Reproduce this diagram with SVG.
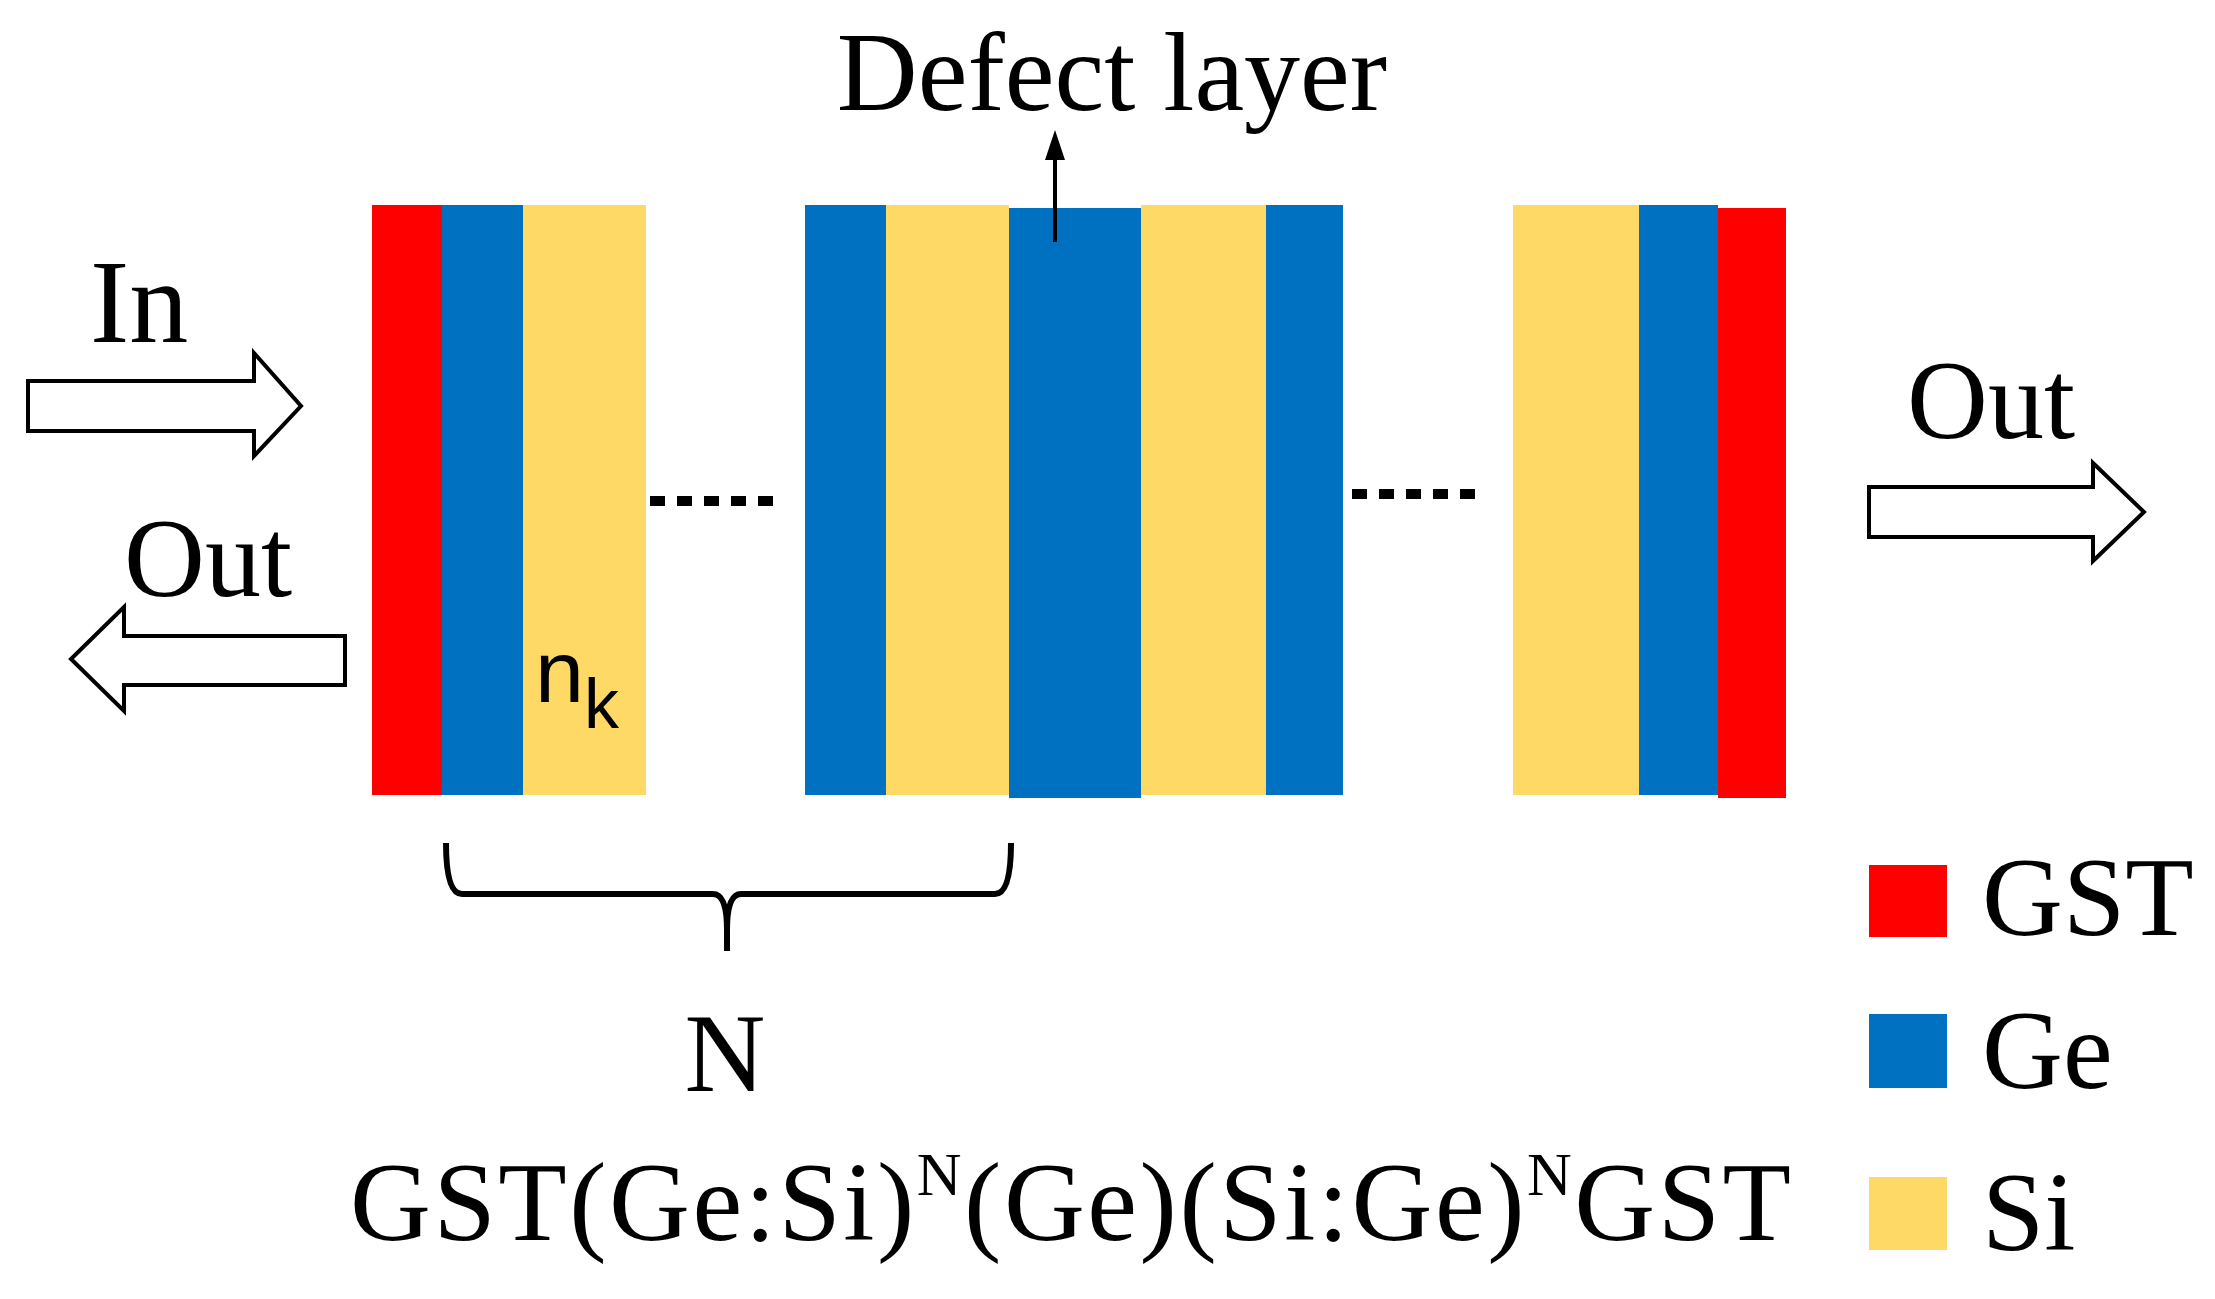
<svg xmlns="http://www.w3.org/2000/svg" width="2215" height="1299" viewBox="0 0 2215 1299">
<style>
.r{fill:#FF0000}.b{fill:#0070C0}.y{fill:#FFD966}
.t{font-family:"Liberation Serif",serif;fill:#000}
.ar{fill:#fff;stroke:#000;stroke-width:4}
.dot{stroke:#000;stroke-width:10;stroke-dasharray:15 12}
</style>
<rect width="2215" height="1299" fill="#fff"/>
<g id="stack1"><rect class="r" x="372" y="205" width="70" height="590"/><rect class="b" x="442" y="205" width="81" height="590"/><rect class="y" x="523" y="205" width="123" height="590"/></g>
<g id="stack2"><rect class="b" x="805" y="205" width="81" height="590"/><rect class="y" x="886" y="205" width="123" height="590"/><rect class="b" x="1009" y="208" width="132" height="590"/><rect class="y" x="1141" y="205" width="125" height="590"/><rect class="b" x="1266" y="205" width="77" height="590"/></g>
<g id="stack3"><rect class="y" x="1513" y="205" width="126" height="590"/><rect class="b" x="1639" y="205" width="79" height="590"/><rect class="r" x="1718" y="208" width="68" height="590"/></g>
<g id="connectors">
<line class="dot" x1="650" y1="501" x2="785" y2="501"/>
<line class="dot" x1="1352" y1="494" x2="1487" y2="494"/>
<line x1="1055" y1="242" x2="1055" y2="155" stroke="#000" stroke-width="4"/>
<polygon points="1055,130 1045,160 1065,160" fill="#000"/>
<polygon class="ar" points="28,381 254,381 254,353 301,406 254,456 254,431 28,431"/>
<polygon class="ar" points="345,636 124,636 124,607 71,659 124,711 124,685 345,685"/>
<polygon class="ar" points="1869,487 2093,487 2093,463 2144,512 2093,561 2093,537 1869,537"/>
<path d="M446,843 Q446,894 462,894 L713,894 Q727,894 727,930 L727,951 M727,930 Q727,894 741,894 L995,894 Q1011,894 1011,843" fill="none" stroke="#000" stroke-width="6"/>
</g>
<g id="labels">
<text class="t" x="1112" y="110" font-size="112" text-anchor="middle">Defect layer</text>
<text class="t" x="90" y="342" font-size="118">In</text>
<text class="t" x="124" y="596" font-size="112">Out</text>
<text class="t" x="1907" y="438" font-size="112">Out</text>
<text x="535" y="702" font-family="Liberation Sans,sans-serif" font-size="88">n<tspan font-size="70" dy="26">k</tspan></text>
<text class="t" x="725" y="1091" font-size="112" text-anchor="middle">N</text>
<text class="t" x="350" y="1240" font-size="112" textLength="1441">GST(Ge:Si)<tspan font-size="62" dy="-45">N</tspan><tspan dy="45">(Ge)(Si:Ge)</tspan><tspan font-size="62" dy="-45">N</tspan><tspan dy="45">GST</tspan></text>
</g>
<g id="legend">
<rect class="r" x="1869" y="865" width="78" height="72"/><text class="t" x="1982" y="935" font-size="112">GST</text>
<rect class="b" x="1869" y="1014" width="78" height="74"/><text class="t" x="1982" y="1088" font-size="112">Ge</text>
<rect class="y" x="1869" y="1177" width="78" height="73"/><text class="t" x="1982" y="1250" font-size="112">Si</text>
</g>
</svg>
